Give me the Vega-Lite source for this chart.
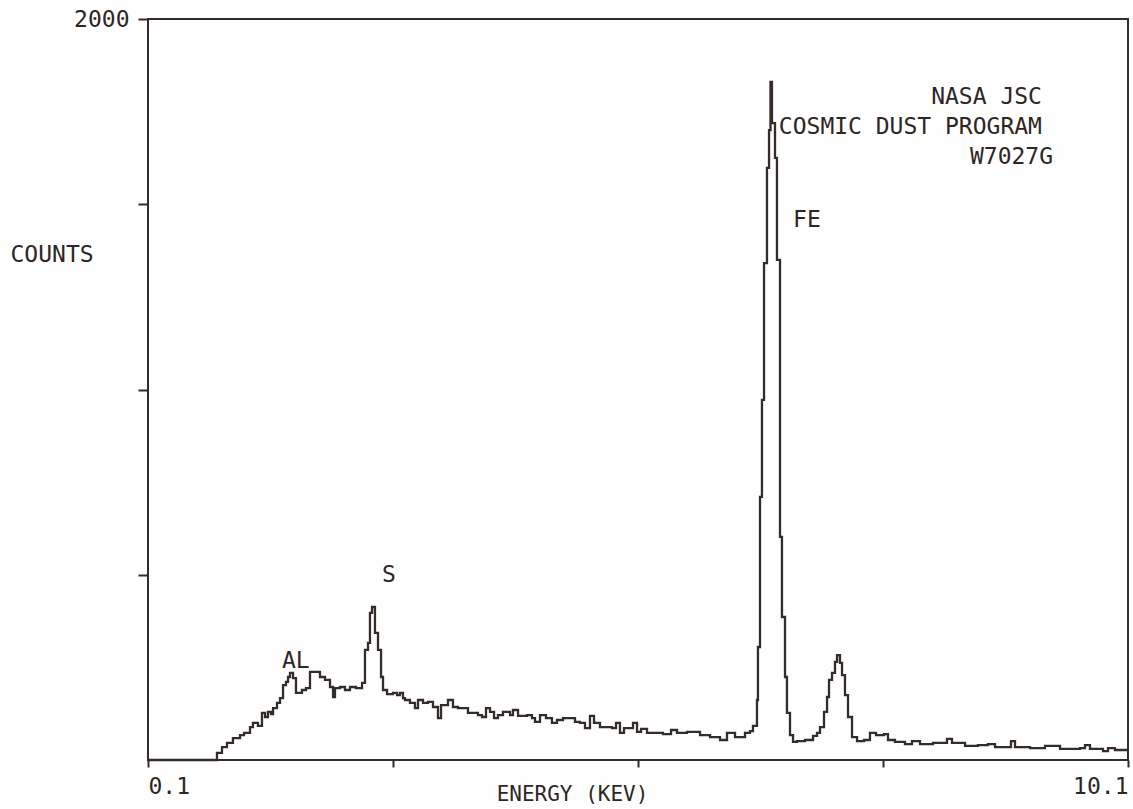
{
  "$schema": "https://vega.github.io/schema/vega-lite/v6.json",
  "width": 980,
  "height": 741,
  "autosize": {"type": "none"},
  "padding": {"left": 148, "top": 19, "right": 5, "bottom": 49},
  "background": "#fefefe",
  "config": {
    "view": {"stroke": "#332c28", "strokeWidth": 2},
    "font": "DejaVu Sans Mono",
    "axis": {"grid": false, "domain": false, "tickColor": "#332c28", "tickWidth": 2, "labelFont": "DejaVu Sans Mono", "titleFont": "DejaVu Sans Mono", "labelColor": "#2d2724", "titleColor": "#2d2724", "labelFontSize": 23, "titleFontSize": 21, "titleFontWeight": "normal"}
  },
  "datasets": {
    "spectrum": [
      {"e": 0.100, "c": 0}, {"e": 0.804, "c": 19}, {"e": 0.855, "c": 35}, {"e": 0.906, "c": 46}, {"e": 0.967, "c": 59},
      {"e": 1.039, "c": 67}, {"e": 1.080, "c": 73}, {"e": 1.141, "c": 89}, {"e": 1.171, "c": 100}, {"e": 1.222, "c": 92},
      {"e": 1.263, "c": 127}, {"e": 1.294, "c": 116}, {"e": 1.324, "c": 130}, {"e": 1.355, "c": 124}, {"e": 1.376, "c": 140},
      {"e": 1.416, "c": 154}, {"e": 1.447, "c": 167}, {"e": 1.478, "c": 202}, {"e": 1.508, "c": 211}, {"e": 1.529, "c": 224},
      {"e": 1.549, "c": 235}, {"e": 1.580, "c": 221}, {"e": 1.610, "c": 181}, {"e": 1.671, "c": 189}, {"e": 1.712, "c": 194},
      {"e": 1.753, "c": 238}, {"e": 1.855, "c": 224}, {"e": 1.906, "c": 216}, {"e": 1.957, "c": 197}, {"e": 1.988, "c": 170},
      {"e": 2.008, "c": 194}, {"e": 2.059, "c": 197}, {"e": 2.110, "c": 189}, {"e": 2.161, "c": 197}, {"e": 2.222, "c": 194},
      {"e": 2.284, "c": 208}, {"e": 2.314, "c": 297}, {"e": 2.345, "c": 316}, {"e": 2.365, "c": 397}, {"e": 2.386, "c": 413},
      {"e": 2.416, "c": 343}, {"e": 2.447, "c": 297}, {"e": 2.478, "c": 224}, {"e": 2.498, "c": 189}, {"e": 2.539, "c": 178},
      {"e": 2.600, "c": 181}, {"e": 2.641, "c": 175}, {"e": 2.671, "c": 181}, {"e": 2.702, "c": 167}, {"e": 2.722, "c": 162},
      {"e": 2.773, "c": 154}, {"e": 2.824, "c": 140}, {"e": 2.855, "c": 162}, {"e": 2.906, "c": 154}, {"e": 2.957, "c": 157},
      {"e": 3.008, "c": 143}, {"e": 3.059, "c": 113}, {"e": 3.090, "c": 148}, {"e": 3.161, "c": 162}, {"e": 3.212, "c": 143},
      {"e": 3.263, "c": 140}, {"e": 3.365, "c": 127}, {"e": 3.467, "c": 121}, {"e": 3.508, "c": 116}, {"e": 3.549, "c": 140},
      {"e": 3.590, "c": 130}, {"e": 3.631, "c": 113}, {"e": 3.671, "c": 121}, {"e": 3.722, "c": 130}, {"e": 3.794, "c": 121},
      {"e": 3.824, "c": 135}, {"e": 3.876, "c": 119}, {"e": 3.967, "c": 121}, {"e": 4.018, "c": 113}, {"e": 4.049, "c": 103},
      {"e": 4.100, "c": 121}, {"e": 4.161, "c": 113}, {"e": 4.222, "c": 100}, {"e": 4.273, "c": 108}, {"e": 4.335, "c": 113},
      {"e": 4.457, "c": 103}, {"e": 4.508, "c": 100}, {"e": 4.559, "c": 86}, {"e": 4.610, "c": 119}, {"e": 4.651, "c": 100},
      {"e": 4.712, "c": 89}, {"e": 4.835, "c": 86}, {"e": 4.876, "c": 100}, {"e": 4.916, "c": 73}, {"e": 4.957, "c": 86},
      {"e": 5.049, "c": 100}, {"e": 5.090, "c": 76}, {"e": 5.131, "c": 84}, {"e": 5.192, "c": 73}, {"e": 5.355, "c": 70},
      {"e": 5.437, "c": 81}, {"e": 5.498, "c": 73}, {"e": 5.600, "c": 76}, {"e": 5.733, "c": 67}, {"e": 5.835, "c": 62},
      {"e": 5.937, "c": 54}, {"e": 6.008, "c": 73}, {"e": 6.090, "c": 62}, {"e": 6.192, "c": 73}, {"e": 6.243, "c": 78},
      {"e": 6.273, "c": 92}, {"e": 6.314, "c": 162}, {"e": 6.324, "c": 305}, {"e": 6.345, "c": 710}, {"e": 6.365, "c": 972},
      {"e": 6.386, "c": 1341}, {"e": 6.416, "c": 1598}, {"e": 6.437, "c": 1700}, {"e": 6.452, "c": 1830}, {"e": 6.467, "c": 1719},
      {"e": 6.498, "c": 1625}, {"e": 6.518, "c": 1350}, {"e": 6.549, "c": 602}, {"e": 6.569, "c": 386}, {"e": 6.600, "c": 224},
      {"e": 6.620, "c": 127}, {"e": 6.651, "c": 67}, {"e": 6.682, "c": 49}, {"e": 6.722, "c": 51}, {"e": 6.804, "c": 54},
      {"e": 6.886, "c": 65}, {"e": 6.927, "c": 73}, {"e": 6.957, "c": 89}, {"e": 6.998, "c": 130}, {"e": 7.029, "c": 170},
      {"e": 7.049, "c": 216}, {"e": 7.080, "c": 235}, {"e": 7.110, "c": 265}, {"e": 7.131, "c": 283}, {"e": 7.161, "c": 262},
      {"e": 7.182, "c": 229}, {"e": 7.212, "c": 175}, {"e": 7.243, "c": 116}, {"e": 7.284, "c": 62}, {"e": 7.335, "c": 51},
      {"e": 7.406, "c": 54}, {"e": 7.467, "c": 73}, {"e": 7.529, "c": 67}, {"e": 7.610, "c": 70}, {"e": 7.651, "c": 54},
      {"e": 7.722, "c": 49}, {"e": 7.824, "c": 43}, {"e": 7.896, "c": 51}, {"e": 7.978, "c": 43}, {"e": 8.110, "c": 46},
      {"e": 8.253, "c": 57}, {"e": 8.304, "c": 46}, {"e": 8.437, "c": 38}, {"e": 8.569, "c": 40}, {"e": 8.671, "c": 43},
      {"e": 8.743, "c": 35}, {"e": 8.906, "c": 51}, {"e": 8.947, "c": 35}, {"e": 9.100, "c": 32}, {"e": 9.253, "c": 38},
      {"e": 9.406, "c": 30}, {"e": 9.610, "c": 32}, {"e": 9.661, "c": 40}, {"e": 9.712, "c": 30}, {"e": 9.845, "c": 24},
      {"e": 9.896, "c": 32}, {"e": 9.967, "c": 27}, {"e": 10.100, "c": 27}
    ],
    "notesRight": [
      {"e": 9.222, "c": 1789, "t": "NASA JSC"},
      {"e": 9.222, "c": 1708, "t": "COSMIC DUST PROGRAM"},
      {"e": 9.335, "c": 1627, "t": "W7027G"}
    ],
    "notesLeft": [
      {"e": 6.682, "c": 1457, "t": "FE"},
      {"e": 2.488, "c": 499, "t": "S"},
      {"e": 1.467, "c": 267, "t": "AL"}
    ]
  },
  "layer": [
    {
      "data": {"name": "spectrum"},
      "mark": {"type": "line", "interpolate": "step-after", "color": "#332c28", "strokeWidth": 2.3},
      "encoding": {
        "x": {
          "field": "e", "type": "quantitative",
          "scale": {"domain": [0.1, 10.1], "nice": false, "zero": false},
          "axis": {
            "values": [0.1, 2.6, 5.1, 7.6, 10.1],
            "labelExpr": "datum.value < 1 ? '0.1' : (datum.value > 10 ? '10.1' : '')",
            "labelFlush": true, "labelOverlap": false,
            "tickSize": 7, "labelPadding": 8,
            "title": "ENERGY (KEV)", "titleX": 424, "titleY": 34, "titleAlign": "center", "titleBaseline": "middle", "titleAnchor": null
          }
        },
        "y": {
          "field": "c", "type": "quantitative",
          "scale": {"domain": [0, 2000], "nice": false},
          "axis": {
            "values": [500, 1000, 1500, 2000],
            "labelExpr": "datum.value == 2000 ? '2000' : ''",
            "labelOverlap": false,
            "tickSize": 10, "labelPadding": 9,
            "title": "COUNTS", "titleFontSize": 23, "titleAngle": 0, "titleX": -138, "titleY": 235, "titleAlign": "left", "titleBaseline": "middle"
          }
        }
      }
    },
    {
      "data": {"name": "notesRight"},
      "mark": {"type": "text", "align": "right", "baseline": "middle", "font": "DejaVu Sans Mono", "fontSize": 23, "color": "#2d2724"},
      "encoding": {
        "x": {"field": "e", "type": "quantitative"},
        "y": {"field": "c", "type": "quantitative"},
        "text": {"field": "t"}
      }
    },
    {
      "data": {"name": "notesLeft"},
      "mark": {"type": "text", "align": "left", "baseline": "middle", "font": "DejaVu Sans Mono", "fontSize": 23, "color": "#2d2724"},
      "encoding": {
        "x": {"field": "e", "type": "quantitative"},
        "y": {"field": "c", "type": "quantitative"},
        "text": {"field": "t"}
      }
    }
  ]
}
